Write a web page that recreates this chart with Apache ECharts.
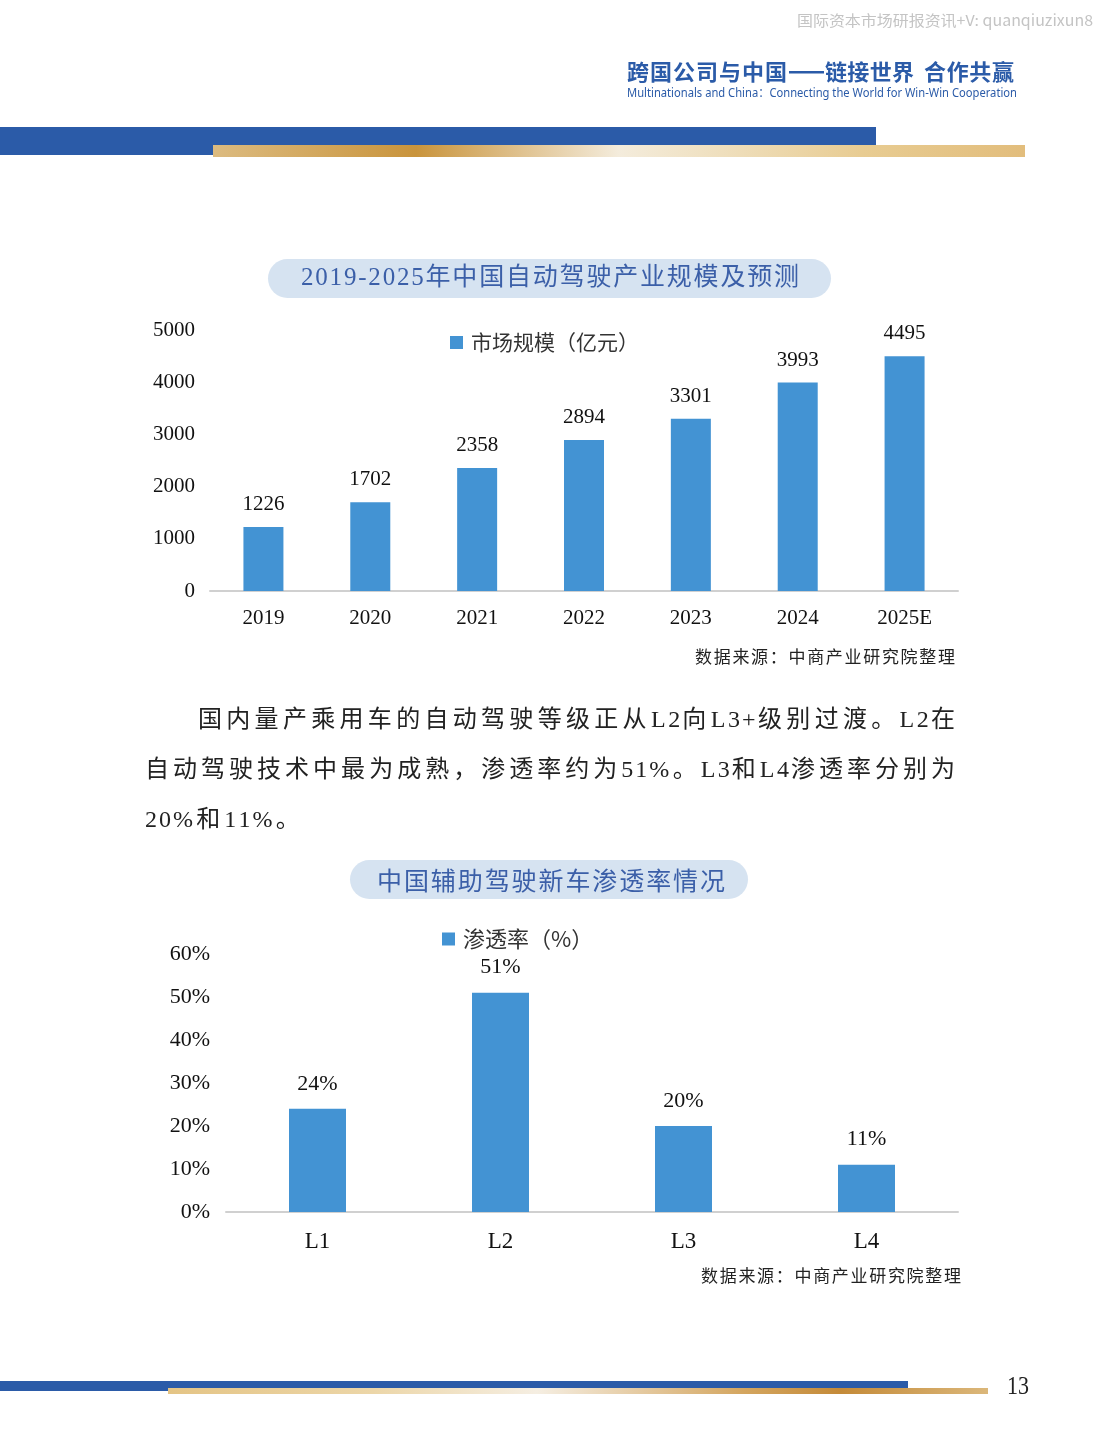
<!DOCTYPE html>
<html>
<head>
<meta charset="utf-8">
<script src="https://cdn.jsdelivr.net/npm/echarts@6/dist/echarts.min.js"></script>
<style>
html,body{margin:0;padding:0;background:#fff;}
#main{width:1099px;height:1453px;}
</style>
</head>
<body>
<div id="main"></div>
<script>
// ---------- data ----------
const marketYears = ['2019','2020','2021','2022','2023','2024','2025E'];
const marketValues = [1226, 1702, 2358, 2894, 3301, 3993, 4495];
const marketName = '市场规模（亿元）';
const marketTicks = {min: 0, max: 5000, interval: 1000};

const levelCats = ['L1','L2','L3','L4'];
const levelValues = [24, 51, 20, 11];
const levelName = '渗透率（%）';
const levelTicks = {min: 0, max: 60, interval: 10};

const title1 = '2019-2025年中国自动驾驶产业规模及预测';
const title2 = '中国辅助驾驶新车渗透率情况';
const sourceText = '数据来源：中商产业研究院整理';
const paraLines = [
  '国内量产乘用车的自动驾驶等级正从L2向L3+级别过渡。L2在',
  '自动驾驶技术中最为成熟，渗透率约为51%。L3和L4渗透率分别为',
  '20%和11%。'
];
const headTitle = '跨国公司与中国——链接世界 合作共赢';
const headSub = 'Multinationals and China：Connecting the World for Win-Win Cooperation';
const watermark = '国际资本市场研报资讯+V: quanqiuzixun8';
const pageNo = '13';

// ---------- helpers ----------
const mctx = document.createElement('canvas').getContext('2d');
const SERIF_CJK = "'Liberation Serif','Noto Sans CJK SC'";
const CJK = "'Noto Sans CJK SC'";
function fontStr(size, family, weight){ return (weight||'normal') + ' ' + size + 'px ' + family; }
function txt(c, x, y, f, color){
  return {type:'text', x:x, y:y, z:10, silent:true,
    style:{text:c, font:f, fill:color, align:'left', verticalAlign:'middle', textAlign:'left', textVerticalAlign:'middle'}};
}
// uniform gap between characters
function spread(str, x0, x1, cy, size, family, color, weight){
  const f = fontStr(size, family, weight);
  mctx.font = f;
  const chars = Array.from(str);
  const ws = chars.map(c => mctx.measureText(c).width);
  const total = ws.reduce((a,b)=>a+b,0);
  const gap = chars.length > 1 ? (x1 - x0 - total) / (chars.length - 1) : 0;
  let x = x0;
  const out = [];
  chars.forEach((c,i)=>{
    if (c !== ' ') out.push(txt(c, x, cy, f, color));
    x += ws[i] + gap;
  });
  return out;
}
// gap proportional to character width (justified paragraph)
function ratioOf(str, x0, x1, size, family){
  mctx.font = fontStr(size, family);
  const ws = Array.from(str).map(c => mctx.measureText(c).width);
  const total = ws.reduce((a,b)=>a+b,0);
  const inner = total - ws[ws.length-1];
  return (x1 - x0 - total) / inner;
}
function justify(str, x0, cy, size, family, color, k){
  const f = fontStr(size, family);
  mctx.font = f;
  const out = [];
  let x = x0;
  Array.from(str).forEach(c=>{
    const w = mctx.measureText(c).width;
    out.push(txt(c, x, cy, f, color));
    x += w * (1 + k);
  });
  return out;
}
function fit(str, x0, x1, cy, size, family, color, weight){
  const f = fontStr(size, family, weight);
  mctx.font = f;
  const w = mctx.measureText(str).width;
  const e = txt(str, x0, cy, f, color);
  e.scaleX = (x1-x0)/w;
  return e;
}
function rect(x,y,w,h,fill,r){
  return {type:'rect', z:1, silent:true, shape:{x:x,y:y,width:w,height:h,r:r||0}, style:{fill:fill}};
}
function grad(stops){
  return {type:'linear', x:0, y:0, x2:1, y2:0, colorStops:stops.map(s=>({offset:s[0], color:s[1]}))};
}

// ---------- graphics ----------
const BLUE = '#2b5ba8';
const TITLE_BLUE = '#3b5fa8';
let g = [];
g.push(fit(watermark, 797, 1093, 20, 15, CJK, '#c4c4c4'));
g = g.concat(spread('跨国公司与中国', 627, 787, 72, 22, CJK, BLUE, 'bold'));
g.push(rect(789, 71, 35, 2.5, BLUE));
g = g.concat(spread('链接世界', 825, 914, 72, 22, CJK, BLUE, 'bold'));
g = g.concat(spread('合作共赢', 924, 1014, 72, 22, CJK, BLUE, 'bold'));
g.push(fit(headSub, 627, 1017, 94, 12, "'Noto Sans','Noto Sans CJK SC'", BLUE));
// top bars
g.push(rect(0, 127, 876, 28, BLUE));
g.push(rect(213, 145, 812, 12, grad([[0,'#dcbb80'],[0.25,'#c9943c'],[0.5,'#f4ecdc'],[0.6,'#f0e2c4'],[0.8,'#e8cc92'],[1,'#e2bd7c']])));
// chart 1 title pill
g.push(rect(268, 259, 563, 39, '#d6e3f1', 19.5));
g = g.concat(spread(title1, 301, 799, 278, 25, SERIF_CJK, TITLE_BLUE));
// source 1
g = g.concat(spread(sourceText, 695, 955, 657, 17, CJK, '#222'));
// paragraph
const k1 = ratioOf(paraLines[0], 198, 955, 24, SERIF_CJK);
const k2 = ratioOf(paraLines[1], 145, 955, 24, SERIF_CJK);
g = g.concat(justify(paraLines[0], 198, 721, 24, SERIF_CJK, '#222', k1));
g = g.concat(justify(paraLines[1], 145, 771, 24, SERIF_CJK, '#222', k2));
g = g.concat(justify(paraLines[2], 145, 821, 24, SERIF_CJK, '#222', k2));
// chart 2 title pill
g.push(rect(350, 860, 398, 39, '#d6e3f1', 19.5));
g = g.concat(spread(title2, 377, 725, 880, 25, CJK, TITLE_BLUE));
// source 2
g = g.concat(spread(sourceText, 701, 961, 1276, 17, CJK, '#222'));
// footer bars
g.push(rect(0, 1381, 908, 10, BLUE));
g.push(rect(168, 1388, 820, 6, grad([[0,'#e4c485'],[0.25,'#ecd6a8'],[0.45,'#f5eee2'],[0.7,'#d4a660'],[0.82,'#c48a38'],[1,'#dbb77a']])));
g.push(fit(pageNo, 1007, 1029, 1387, 26, "'Liberation Serif'", '#222'));

// ---------- chart ----------
const chart = echarts.init(document.getElementById('main'), null, {renderer:'canvas'});
const axisFont = {fontFamily:'Liberation Serif', color:'#111'};
chart.setOption({
  backgroundColor:'#ffffff',
  animation:false,
  grid:[
    {left:210, top:330, width:748, height:261},
    {left:226, top:954, width:732, height:258}
  ],
  legend:[
    {data:[marketName], left:450, top:332, padding:0, itemWidth:13, itemHeight:13, icon:'rect', selectedMode:false,
     textStyle:{fontSize:21, fontFamily:CJK, color:'#333', padding:[0,0,0,3]}},
    {data:[levelName], left:442, top:928, padding:0, itemWidth:13, itemHeight:13, icon:'rect', selectedMode:false,
     textStyle:{fontSize:22, fontFamily:CJK, color:'#333', padding:[0,0,0,3]}}
  ],
  xAxis:[
    {type:'category', gridIndex:0, data:marketYears,
     axisLine:{lineStyle:{color:'#d0d0d0', width:2}}, axisTick:{show:false},
     axisLabel:Object.assign({margin:17, fontSize:21}, axisFont)},
    {type:'category', gridIndex:1, data:levelCats,
     axisLine:{lineStyle:{color:'#d0d0d0', width:2}}, axisTick:{show:false},
     axisLabel:Object.assign({margin:18, fontSize:23}, axisFont)}
  ],
  yAxis:[
    {type:'value', gridIndex:0, min:marketTicks.min, max:marketTicks.max, interval:marketTicks.interval,
     axisLine:{show:false}, axisTick:{show:false}, splitLine:{show:false},
     axisLabel:Object.assign({margin:15, fontSize:21, formatter:function(v){return String(v);}}, axisFont)},
    {type:'value', gridIndex:1, min:levelTicks.min, max:levelTicks.max, interval:levelTicks.interval,
     axisLine:{show:false}, axisTick:{show:false}, splitLine:{show:false},
     axisLabel:Object.assign({margin:16, fontSize:22, formatter:'{value}%'}, axisFont)}
  ],
  series:[
    {name:marketName, type:'bar', xAxisIndex:0, yAxisIndex:0, data:marketValues, barWidth:40,
     itemStyle:{color:'#4393d3'},
     label:{show:true, position:'top', distance:12, fontSize:21, fontFamily:'Liberation Serif', color:'#111'}},
    {name:levelName, type:'bar', xAxisIndex:1, yAxisIndex:1, data:levelValues, barWidth:57,
     itemStyle:{color:'#4393d3'},
     label:{show:true, position:'top', distance:14, fontSize:22, fontFamily:'Liberation Serif', color:'#111', formatter:'{c}%'}}
  ],
  graphic:{elements:g}
});
</script>
</body>
</html>
